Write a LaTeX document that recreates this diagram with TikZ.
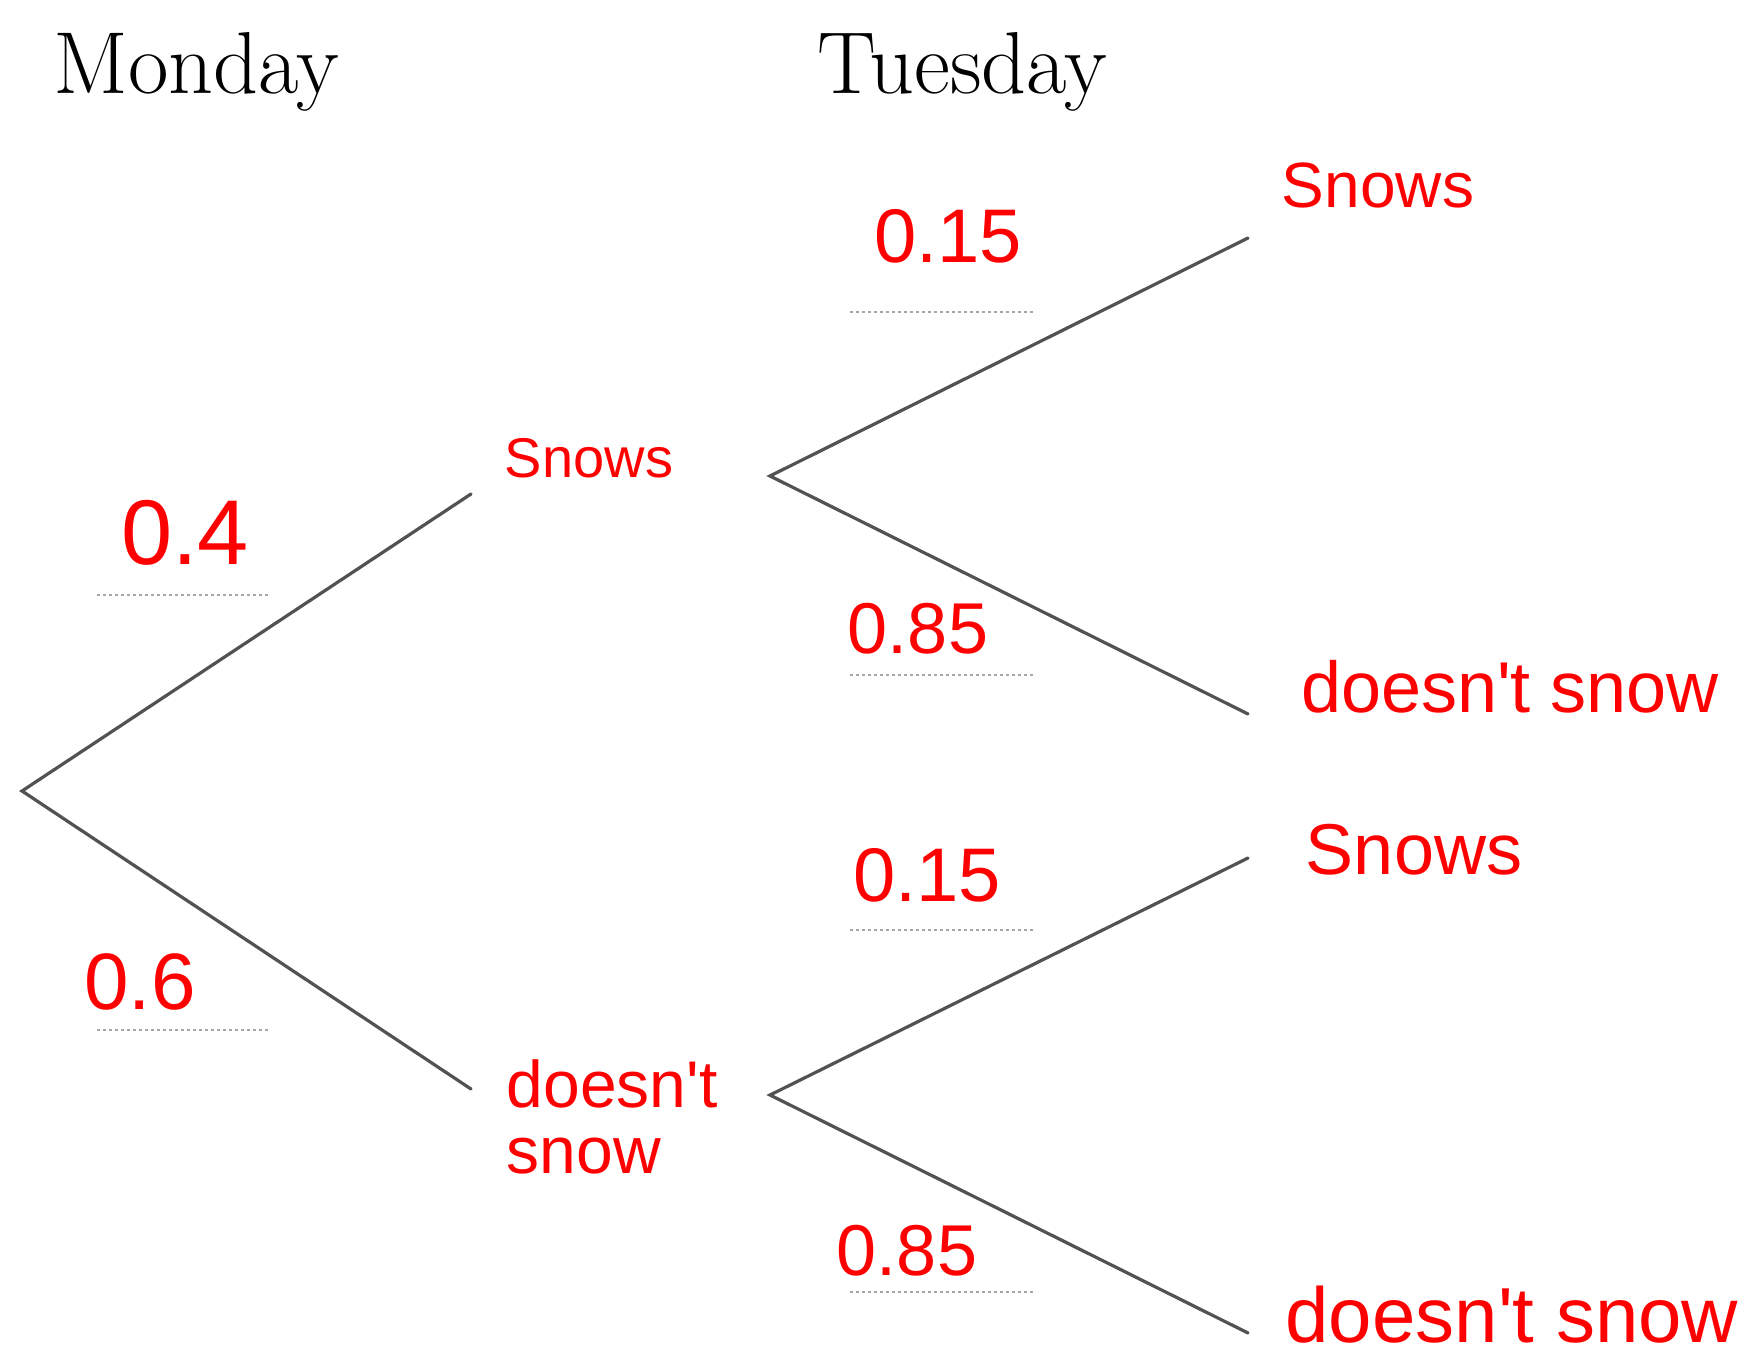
\documentclass[tikz,border=0pt]{standalone}
\usepackage{fontspec}
\newfontfamily\handfont{Liberation Sans}
\begin{document}
\begin{tikzpicture}[x=0.5pt,y=-0.5pt,
  branch/.style={draw=black!68,line width=1.6pt,line cap=round},
  blank/.style={draw=black!35,line width=1pt,dash pattern=on 1.5pt off 1.5pt},
  day/.style={inner sep=0pt,font=\fontsize{44}{50}\selectfont},
  hand/.style={inner sep=0pt,text=red,font=\handfont\fontsize{#1}{#1}\selectfont,align=left},
  hand/.default=34]
\useasboundingbox (0,0) rectangle (1760,1363);
% day headings
\node[day,anchor=base west] (mon) at (53,94) {Monday};
\node[day,anchor=base west] (tue) at (817,94) {Tuesday};
% branch points
\coordinate (root) at (22,791);
\coordinate (s1) at (471,494);
\coordinate (d1) at (471,1089);
\coordinate (s1o) at (770,476);
\coordinate (d1o) at (770,1095);
\coordinate (ss) at (1248,238);
\coordinate (sd) at (1248,714);
\coordinate (ds) at (1248,858);
\coordinate (dd) at (1248,1333);
\draw[branch] (s1) -- (root) -- (d1);
\draw[branch] (ss) -- (s1o) -- (sd);
\draw[branch] (ds) -- (d1o) -- (dd);
% probability blanks
\coordinate (b1a) at (97,595);   \coordinate (b1b) at (269,595);
\coordinate (b2a) at (97,1030);  \coordinate (b2b) at (269,1030);
\coordinate (b3a) at (850,312);  \coordinate (b3b) at (1034,312);
\coordinate (b4a) at (850,675);  \coordinate (b4b) at (1034,675);
\coordinate (b5a) at (850,930);  \coordinate (b5b) at (1034,930);
\coordinate (b6a) at (850,1292); \coordinate (b6b) at (1034,1292);
\draw[blank] (b1a) -- (b1b);
\draw[blank] (b2a) -- (b2b);
\draw[blank] (b3a) -- (b3b);
\draw[blank] (b4a) -- (b4b);
\draw[blank] (b5a) -- (b5b);
\draw[blank] (b6a) -- (b6b);
% handwritten answers
\node[hand=46] (p1) at (185,533) {0.4};
\node[hand=40] (p2) at (140,982) {0.6};
\node[hand=38] (p3) at (948,236) {0.15};
\node[hand=36] (p4) at (918,629) {0.85};
\node[hand=38] (p5) at (927,875) {0.15};
\node[hand=36] (p6) at (907,1251) {0.85};
\node[hand=28] (o1) at (589,458) {Snows};
\node[hand=33,align=left] (o2) at (612,1117) {doesn't\\snow};
\node[hand=32] (o3) at (1378,185) {Snows};
\node[hand=36] (o4) at (1510,687) {doesn't snow};
\node[hand=36] (o5) at (1414,850) {Snows};
\node[hand=39] (o6) at (1512,1315) {doesn't snow};
\end{tikzpicture}
\end{document}
